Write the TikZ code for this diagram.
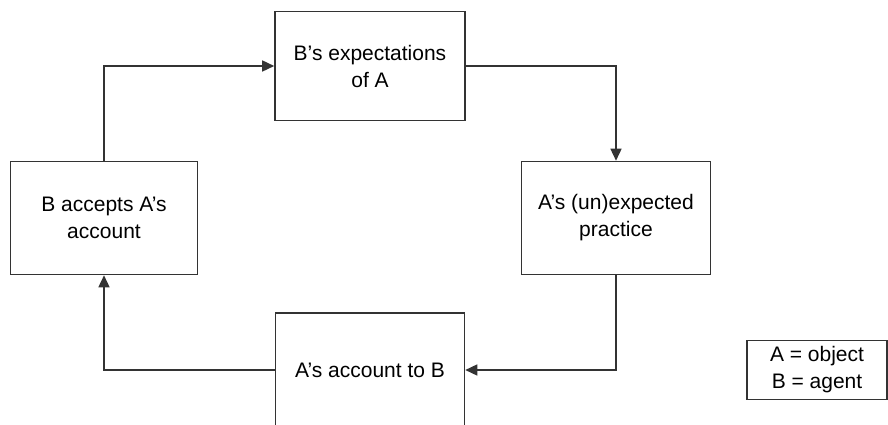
\documentclass[tikz,border=0pt]{standalone}
\usepackage{fontspec}
\setmainfont{Liberation Sans}
\usetikzlibrary{arrows.meta}
\begin{document}
\begin{tikzpicture}[x=1pt,y=-1pt,
  box/.style={draw=black!80, line width=1.6pt, fill=white, align=center,
    font=\fontsize{21}{27}\selectfont, inner sep=0pt},
  arr/.style={draw=black!80, line width=1.6pt,
    -{Triangle[length=12pt,width=11pt]}}]
  \useasboundingbox (0,0) rectangle (888,425);
  \clip (0,0) rectangle (888,425);
  % the four stages of the cycle
  \node[box, minimum width=190pt, minimum height=109pt] (T) at (370,66)
    {B's expectations\\of A};
  \node[box, minimum width=187pt, minimum height=113pt] (L) at (104,218)
    {B accepts A's\\account};
  \node[box, minimum width=189pt, minimum height=113pt] (R) at (616,218)
    {A's (un)expected\\practice};
  \node[box, minimum width=189pt, minimum height=114pt] (B) at (370,370)
    {A's account to B};
  % legend
  \node[box, minimum width=140pt, minimum height=59pt] (K) at (817,370)
    {A = object\\B = agent};
  % connectors
  \draw[arr] (L.north) |- (T.west);
  \draw[arr] (T.east) -| (R.north);
  \draw[arr] (R.south) |- (B.east);
  \draw[arr] (B.west) -| (L.south);
\end{tikzpicture}
\end{document}
